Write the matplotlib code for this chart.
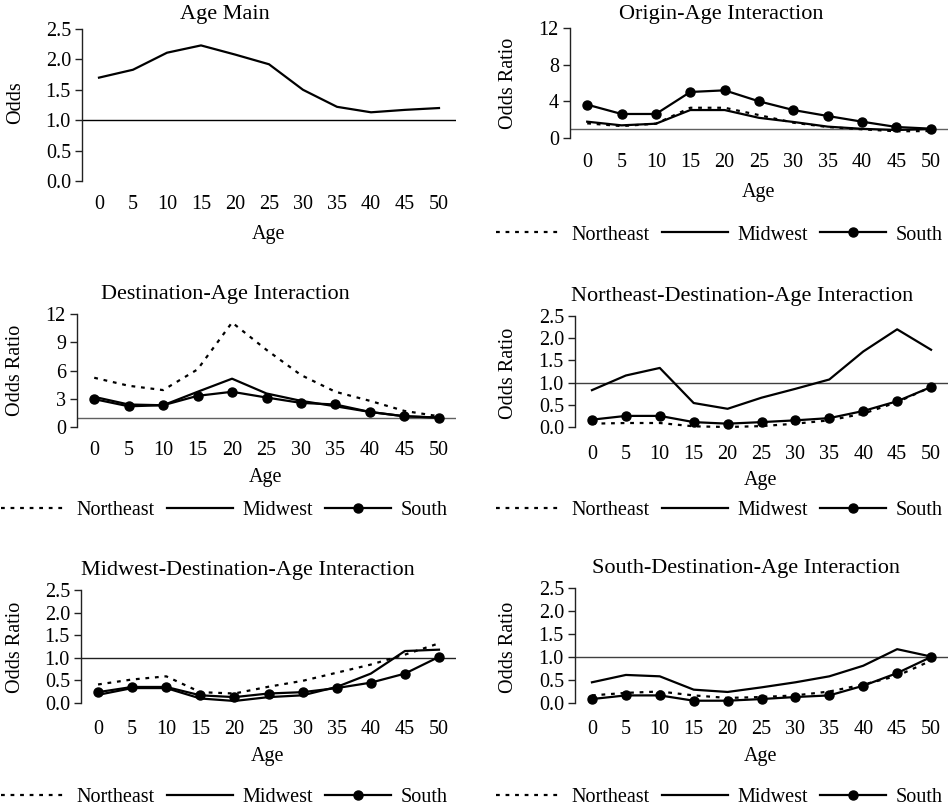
import matplotlib
matplotlib.use("Agg")
import matplotlib.pyplot as plt

plt.rcParams['font.family'] = ['Liberation Serif', 'DejaVu Serif']

ages = [0, 5, 10, 15, 20, 25, 30, 35, 40, 45, 50]
age_labels = [str(a) for a in ages]

# Age Main
age_main = [1.70, 1.83, 2.11, 2.23, 2.08, 1.92, 1.50, 1.22, 1.13, 1.17, 1.20]

# Origin-Age Interaction
orig_ne = [1.60, 1.30, 1.56, 3.30, 3.30, 2.50, 1.67, 1.20, 0.95, 0.73, 0.76]
orig_mw = [1.78, 1.38, 1.56, 3.05, 3.05, 2.20, 1.75, 1.24, 1.00, 0.87, 0.98]
orig_so = [3.64, 2.62, 2.62, 5.02, 5.20, 4.00, 3.05, 2.40, 1.78, 1.20, 1.02]

# Destination-Age Interaction
dest_ne = [5.23, 4.38, 3.92, 6.12, 11.1, 8.19, 5.52, 3.74, 2.78, 1.71, 1.14]
dest_mw = [3.20, 2.39, 2.31, 3.74, 5.13, 3.56, 2.78, 2.20, 1.60, 1.14, 1.00]
dest_so = [2.96, 2.20, 2.31, 3.31, 3.74, 3.13, 2.56, 2.39, 1.60, 1.14, 1.00]

# Northeast-Destination-Age Interaction
ned_ne = [0.075, 0.09, 0.09, 0.015, 0.0, 0.02, 0.075, 0.15, 0.30, 0.56, 0.90]
ned_mw = [0.83, 1.16, 1.33, 0.54, 0.41, 0.66, 0.86, 1.07, 1.70, 2.20, 1.74]
ned_so = [0.165, 0.25, 0.25, 0.11, 0.075, 0.11, 0.15, 0.20, 0.36, 0.58, 0.90]

# Midwest-Destination-Age Interaction
mwd_ne = [0.41, 0.52, 0.59, 0.24, 0.21, 0.36, 0.49, 0.67, 0.85, 1.07, 1.32]
mwd_mw = [0.18, 0.33, 0.33, 0.10, 0.045, 0.13, 0.17, 0.355, 0.65, 1.15, 1.18]
mwd_so = [0.24, 0.355, 0.355, 0.17, 0.13, 0.21, 0.24, 0.33, 0.45, 0.65, 1.02]

# South-Destination-Age Interaction
sod_ne = [0.165, 0.22, 0.25, 0.165, 0.11, 0.13, 0.165, 0.25, 0.40, 0.59, 0.92]
sod_mw = [0.45, 0.61, 0.58, 0.29, 0.24, 0.34, 0.45, 0.58, 0.81, 1.17, 1.01]
sod_so = [0.086, 0.165, 0.165, 0.05, 0.05, 0.086, 0.13, 0.165, 0.375, 0.65, 1.00]

series_names = ["Northeast", "Midwest", "South"]

W, H = 953, 811
fig = plt.figure(figsize=(W / 100, H / 100), dpi=100)
FS = 14.5
TFS = 16


def px_axes(x0, x1, ytop, ybot):
    return fig.add_axes([x0 / W, 1 - ybot / H, (x1 - x0) / W, (ybot - ytop) / H])


def style(ax, ylim, yticks, fmt, pad, refcolor):
    xi = list(range(len(ages)))
    ax.set_xlim(-0.5, len(ages) - 0.5)
    ax.set_ylim(*ylim)
    ax.set_xticks(xi)
    ax.set_xticklabels(age_labels, fontsize=FS)
    ax.set_yticks(yticks)
    ax.set_yticklabels([fmt.format(v) for v in yticks], fontsize=FS)
    for s in ['top', 'right', 'bottom']:
        ax.spines[s].set_visible(False)
    ax.spines['left'].set_linewidth(1.0)
    ax.spines['left'].set_color('#222222')
    ax.tick_params(axis='x', length=0, pad=pad)
    ax.tick_params(axis='y', direction='out', length=5, width=1.0, color='#222222', pad=3)
    ax.axhline(1.0, color=refcolor, lw=1.0, zorder=1)
    ax.patch.set_visible(False)


DASH = (0, (1.7, 2.6))


def plot3(ax, ne, mw, so):
    xi = list(range(len(ages)))
    h1, = ax.plot(xi, ne, color='black', lw=1.6, linestyle=DASH, clip_on=False, zorder=3)
    h2, = ax.plot(xi, mw, color='black', lw=1.6, clip_on=False, zorder=3)
    h3, = ax.plot(xi, so, color='black', lw=1.6, marker='o', markersize=6.5, clip_on=False, zorder=4)
    return [h1, h2, h3]


def add_legend(handles, cx, cy):
    fig.legend(handles, series_names, loc='center', bbox_to_anchor=(cx / W, 1 - cy / H),
               ncol=3, frameon=False, fontsize=FS, handlelength=3.3,
               handletextpad=0.45, columnspacing=0.6, borderaxespad=0, borderpad=0)


def ftext(x, y, s, rot=0, fs=FS):
    fig.text(x / W, 1 - y / H, s, ha='center', va='center', fontsize=fs, rotation=rot)


pct = [0, 0.5, 1.0, 1.5, 2.0, 2.5]

# Panel 1
ax1 = px_axes(82, 456, 29, 181)
style(ax1, (0, 2.5), pct, "{:.1f}", 10, 'black')
ax1.plot(range(len(ages)), age_main, color='black', lw=1.6, zorder=3)
ftext(225, 15, "Age Main", fs=TFS)
ftext(16, 103, "Odds", 90)
ftext(269, 235, "Age")

# Panel 2
ax2 = px_axes(570, 948, 28, 138)
style(ax2, (0, 12), [0, 4, 8, 12], "{:d}", 10.5, '#606060')
hh = plot3(ax2, orig_ne, orig_mw, orig_so)
ftext(721, 15, "Origin-Age Interaction", fs=TFS)
ftext(509, 83, "Odds Ratio", 90)
ftext(759, 192, "Age")
add_legend(hh, 719, 235)

# Panel 3
ax3 = px_axes(77, 456, 314, 427)
style(ax3, (0, 12), [0, 3, 6, 9, 12], "{:d}", 10, '#606060')
hh = plot3(ax3, dest_ne, dest_mw, dest_so)
ftext(225, 295, "Destination-Age Interaction", fs=TFS)
ftext(16, 370, "Odds Ratio", 90)
ftext(266, 477, "Age")
add_legend(hh, 224, 510)

# Panel 4
ax4 = px_axes(575, 948, 316, 427)
style(ax4, (0, 2.5), pct, "{:.1f}", 13, '#404040')
hh = plot3(ax4, ned_ne, ned_mw, ned_so)
ftext(742, 297, "Northeast-Destination-Age Interaction", fs=TFS)
ftext(509, 373, "Odds Ratio", 90)
ftext(761, 480, "Age")
add_legend(hh, 719, 510)

# Panel 5
ax5 = px_axes(81, 456, 590, 703)
style(ax5, (0, 2.5), pct, "{:.1f}", 12, '#202020')
hh = plot3(ax5, mwd_ne, mwd_mw, mwd_so)
ftext(248, 570, "Midwest-Destination-Age Interaction", fs=TFS)
ftext(16, 647, "Odds Ratio", 90)
ftext(268, 757, "Age")
add_legend(hh, 224, 797)

# Panel 6
ax6 = px_axes(575, 948, 588, 703)
style(ax6, (0, 2.5), pct, "{:.1f}", 12, '#404040')
hh = plot3(ax6, sod_ne, sod_mw, sod_so)
ftext(746, 568, "South-Destination-Age Interaction", fs=TFS)
ftext(509, 647, "Odds Ratio", 90)
ftext(761, 757, "Age")
add_legend(hh, 719, 797)

fig.savefig("out.png", dpi=100)
